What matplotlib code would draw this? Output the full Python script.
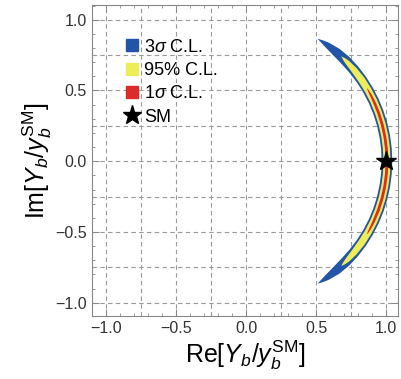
import numpy as np
import matplotlib
matplotlib.use("Agg")
import matplotlib.pyplot as plt
from matplotlib.lines import Line2D
from matplotlib.ticker import MultipleLocator

plt.rcParams['font.family'] = ['Liberation Sans', 'DejaVu Sans']
plt.rcParams['mathtext.fontset'] = 'custom'
plt.rcParams['mathtext.rm'] = 'Liberation Sans'
plt.rcParams['mathtext.it'] = 'Liberation Sans:italic'
plt.rcParams['mathtext.sf'] = 'Liberation Sans'

# band centre radius |Y_b/y_b^SM|
band_r = 1.005

# 3 sigma region: angle (deg) and half width
blue_deg = [-59.5, -57, -55, -50, -45, -40, -35, -30, -25, -20, -15, -10, -5, 0,
            5, 10, 15, 20, 25, 30, 35, 40, 45, 50, 55, 57, 59.5]
blue_hw = [0.0, 0.012, 0.02, 0.032, 0.037, 0.038, 0.038, 0.038, 0.038, 0.038, 0.038, 0.038, 0.038, 0.038,
           0.038, 0.038, 0.038, 0.038, 0.038, 0.038, 0.038, 0.038, 0.037, 0.032, 0.02, 0.012, 0.0]

# 95% region
yellow_deg = [-47.5, -46, -44, -40, -35, -30, -25, -20, -15, -10, -5, 0,
              5, 10, 15, 20, 25, 30, 35, 40, 44, 46, 47.5]
yellow_hw = [0.0, 0.009, 0.016, 0.022, 0.025, 0.025, 0.025, 0.025, 0.025, 0.025, 0.025, 0.025,
             0.025, 0.025, 0.025, 0.025, 0.025, 0.025, 0.025, 0.022, 0.016, 0.009, 0.0]

# 1 sigma region
red_deg = [-31, -30, -28, -25, -20, -15, -10, -5, 0, 5, 10, 15, 20, 25, 28, 30, 31]
red_hw = [0.0, 0.004, 0.007, 0.009, 0.01, 0.01, 0.01, 0.01, 0.01,
          0.01, 0.01, 0.01, 0.01, 0.009, 0.007, 0.004, 0.0]

sm_point = (1.0, 0.0)

labels = ["3$\\sigma$ C.L.", "95% C.L.", "1$\\sigma$ C.L.", "SM"]
c_blue = "#2255a8"
c_yellow = "#eded5a"
c_red = "#dd2a2a"


def band(deg, hw):
    t = np.radians(deg)
    hw = np.array(hw)
    ro = band_r + hw
    ri = band_r - hw
    x = np.concatenate([ro * np.cos(t), (ri * np.cos(t))[::-1]])
    y = np.concatenate([ro * np.sin(t), (ri * np.sin(t))[::-1]])
    return x, y


fig = plt.figure(figsize=(4.01, 3.79), dpi=100)
ax = fig.add_axes([0.229, 0.166, 0.764, 0.821])

for deg, hw, col in [(blue_deg, blue_hw, c_blue), (yellow_deg, yellow_hw, c_yellow),
                     (red_deg, red_hw, c_red)]:
    x, y = band(deg, hw)
    ax.fill(x, y, color=col, lw=0, zorder=3)

ax.plot(*sm_point, marker='*', color='black', markersize=15, ls='none', zorder=5)

ax.set_xlim(-1.1, 1.085)
ax.set_ylim(-1.095, 1.105)

ax.xaxis.set_major_locator(MultipleLocator(0.5))
ax.yaxis.set_major_locator(MultipleLocator(0.5))
ax.xaxis.set_minor_locator(MultipleLocator(0.1))
ax.yaxis.set_minor_locator(MultipleLocator(0.1))
ax.tick_params(which='both', direction='in', top=True, right=True, color='#888888',
               labelsize=11.5, labelcolor='#333333')
ax.tick_params(which='major', length=5, width=0.7)
ax.tick_params(which='minor', length=2.5, width=0.6)
ax.xaxis.set_major_formatter(plt.FuncFormatter(lambda v, p: f"{v:.1f}".replace('-', '\u2212')))
ax.yaxis.set_major_formatter(plt.FuncFormatter(lambda v, p: f"{v:.1f}".replace('-', '\u2212')))
for s in ax.spines.values():
    s.set_color('#888888')
    s.set_linewidth(0.8)

grid_vals = np.arange(-1.0, 1.01, 0.25)
for g in grid_vals:
    ax.axvline(g, color='#999999', lw=0.8, ls=(0, (4, 3)), zorder=1)
    ax.axhline(g, color='#999999', lw=0.8, ls=(0, (4, 3)), zorder=1)

ax.set_xlabel("Re[$Y_b/y_b^{\\mathrm{SM}}$]", fontsize=18, labelpad=2)
ax.set_ylabel("Im[$Y_b/y_b^{\\mathrm{SM}}$]", fontsize=18, labelpad=1)

handles = [Line2D([], [], marker='s', color=c_blue, ls='none', markersize=8),
           Line2D([], [], marker='s', color=c_yellow, ls='none', markersize=8),
           Line2D([], [], marker='s', color=c_red, ls='none', markersize=8),
           Line2D([], [], marker='*', color='black', ls='none', markersize=14)]
ax.legend(handles, labels, loc='upper left', bbox_to_anchor=(0.085, 0.915), frameon=False,
          fontsize=13, handlelength=0.8, handletextpad=0.25, labelspacing=0.35,
          borderaxespad=0)

fig.savefig("out.png", dpi=100)
